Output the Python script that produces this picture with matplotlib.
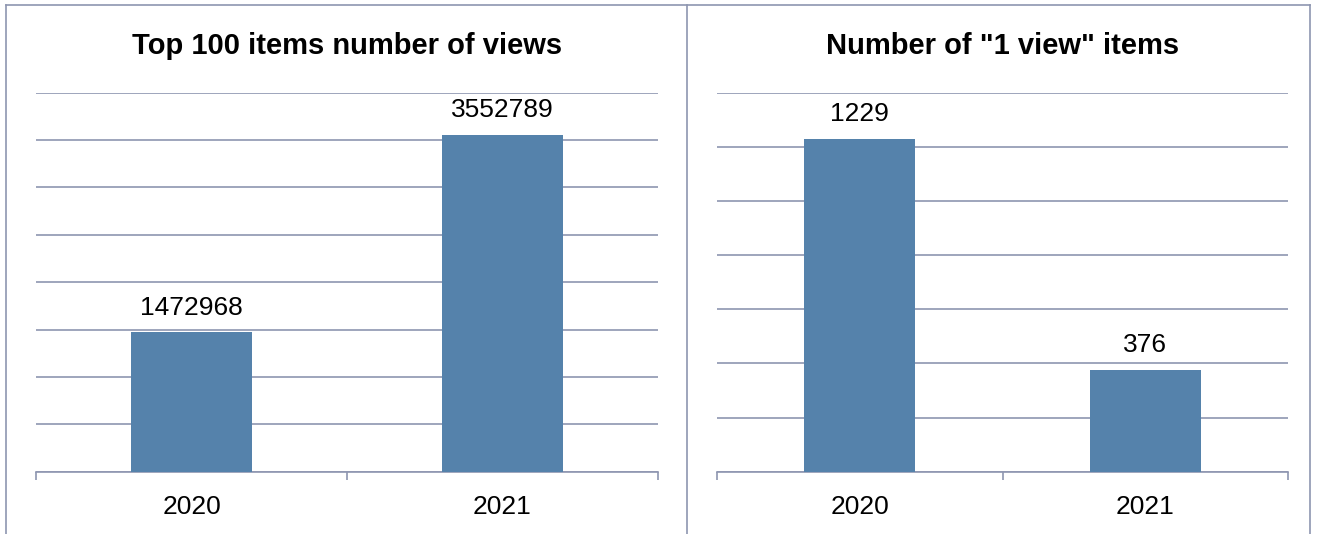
import matplotlib
matplotlib.use("Agg")
import matplotlib.pyplot as plt
from matplotlib.lines import Line2D
from matplotlib.ticker import MultipleLocator

plt.rcParams['font.family'] = ['Liberation Sans', 'DejaVu Sans']

years = ["2020", "2021"]
top100_views = [1472968, 3552789]
one_view_items = [1229, 376]

W, H = 1319, 534
DPI = 100
BAR_COLOR = "#5582AB"
LINE_COLOR = "#8E96B0"

fig = plt.figure(figsize=(W / DPI, H / DPI), dpi=DPI)


def px_axes(x0, x1, ytop, ybot):
    return fig.add_axes([x0 / W, (H - ybot) / H, (x1 - x0) / W, (ybot - ytop) / H])


def panel(ax, values, ymax, step):
    x = list(range(len(values)))
    bars = ax.bar(x, values, width=0.39, color=BAR_COLOR, zorder=3)
    ax.set_xlim(-0.5, len(values) - 0.5)
    ax.set_ylim(0, ymax)
    ax.yaxis.set_major_locator(MultipleLocator(step))
    ax.grid(axis="y", color=LINE_COLOR, linewidth=1.2, zorder=0)
    ax.tick_params(axis="y", left=False, labelleft=False)
    for s in ("left", "right", "top"):
        ax.spines[s].set_visible(False)
    ax.spines["bottom"].set_color(LINE_COLOR)
    ax.spines["bottom"].set_linewidth(1.2)
    ax.set_xticks(x)
    ax.set_xticklabels(years, fontsize=19)
    ax.tick_params(axis="x", length=0, pad=17)
    ax.set_xticks([i - 0.5 for i in range(len(values) + 1)], minor=True)
    ax.tick_params(axis="x", which="minor", length=6, width=1.2, color=LINE_COLOR, direction="out")
    for b, v in zip(bars, values):
        ax.annotate(str(v), (b.get_x() + b.get_width() / 2, v), xytext=(0, 9),
                    textcoords="offset points", ha="center", va="bottom", fontsize=19)
    return ax


axL = px_axes(36, 658, 92.6, 471.7)
panel(axL, top100_views, 4000000, 500000)
axR = px_axes(717, 1288, 92.6, 471.7)
panel(axR, one_view_items, 1400, 200)

fig.text((36 + 658) / 2 / W, 1 - 46 / H, "Top 100 items number of views",
         ha="center", va="center", fontsize=21, fontweight="bold")
fig.text((717 + 1288) / 2 / W, 1 - 46 / H, 'Number of "1 view" items',
         ha="center", va="center", fontsize=21, fontweight="bold")

# outer frame and divider between the two charts
def fline(xs, ys):
    fig.add_artist(Line2D([v / W for v in xs], [1 - v / H for v in ys],
                          color=LINE_COLOR, linewidth=1.2))

fline([6, 6], [5, H + 2])
fline([6, 1310], [5, 5])
fline([1310, 1310], [5, H + 2])
fline([687, 687], [5, H + 2])

fig.savefig("out.png", dpi=DPI)
